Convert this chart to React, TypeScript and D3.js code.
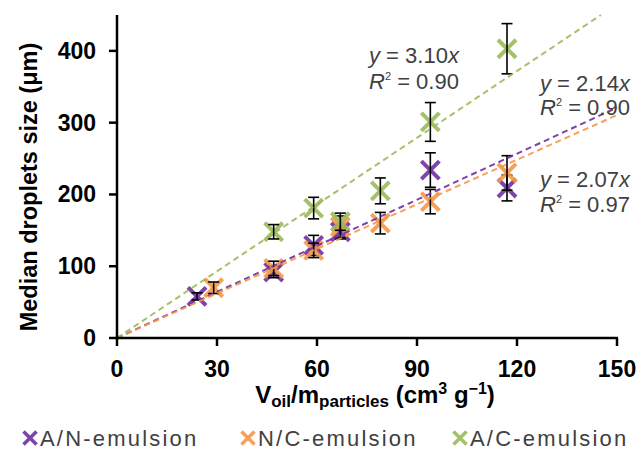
import React from "react";
import * as d3 from "d3";

const anX = [24, 47, 59, 67, 94, 117];
const anY = [58, 92, 129, 148, 234, 209];
const anErr = [5, 8, 14, 10, 24, 18];

const ncX = [29, 47, 59, 67, 79, 94, 117];
const ncY = [70, 97, 122, 155, 160, 190, 230];
const ncErr = [8, 10, 10, 15, 15, 17, 24];

const acX = [47, 59, 67, 79, 94, 117];
const acY = [148, 181, 162, 205, 301, 403];
const acErr = [10, 15, 12, 18, 27, 35];

const slopes = [2.14, 2.07, 3.1];
const seriesNames = ["A/N-emulsion", "N/C-emulsion", "A/C-emulsion"];
const colors = ["#7030A0", "#F79646", "#9BBB59"];
const xTicks = [0, 30, 60, 90, 120, 150];
const yTicks = [0, 100, 200, 300, 400];

const FONT = "'Liberation Sans', Arial, sans-serif";

function Cross({ cx, cy, r, color, sw }: { cx: number; cy: number; r: number; color: string; sw: number }) {
  return (
    <g stroke={color} strokeWidth={sw} strokeLinecap="butt" opacity={0.9}>
      <line x1={cx - r} y1={cy - r} x2={cx + r} y2={cy + r} />
      <line x1={cx - r} y1={cy + r} x2={cx + r} y2={cy - r} />
    </g>
  );
}

export default function App() {
  const W = 640, H = 450;
  const x = d3.scaleLinear().domain([0, 150]).range([117, 617]);
  const y = d3.scaleLinear().domain([0, 450]).range([338, 15]);
  const series = [
    { xs: anX, ys: anY, es: anErr },
    { xs: ncX, ys: ncY, es: ncErr },
    { xs: acX, ys: acY, es: acErr },
  ];
  const line = d3.line<[number, number]>().x((d) => x(d[0])).y((d) => y(d[1]));

  return (
    <svg width={W} height={H} style={{ position: "absolute", left: 0, top: 0 }} fontFamily={FONT}>
      <rect width={W} height={H} fill="#fff" />
      {/* series */}
      {series.map((s, si) => (
        <g key={si}>
          {s.xs.map((xv, i) => (
            <Cross key={"m" + i} cx={x(xv)} cy={y(s.ys[i])} r={9} color={colors[si]} sw={4} />
          ))}
          {s.xs.map((xv, i) => {
            const cx = x(xv);
            const y1 = y(s.ys[i] + s.es[i]);
            const y2 = y(s.ys[i] - s.es[i]);
            return (
              <g key={"e" + i} stroke="#000" strokeWidth={1.6}>
                <line x1={cx} x2={cx} y1={y1} y2={y2} />
                <line x1={cx - 5.5} x2={cx + 5.5} y1={y1} y2={y1} />
                <line x1={cx - 5.5} x2={cx + 5.5} y1={y2} y2={y2} />
              </g>
            );
          })}
        </g>
      ))}
      {/* trendlines */}
      {slopes.map((k, si) => {
        const xe = Math.min(150, 450 / k);
        return (
          <path
            key={"t" + si}
            d={line([[0, 0], [xe, k * xe]]) || ""}
            fill="none"
            stroke={colors[si]}
            strokeWidth={2}
            strokeDasharray="6,4"
            opacity={0.9}
          />
        );
      })}
      {/* axes */}
      <g stroke="#000" strokeWidth={2.5}>
        <line x1={x(0)} x2={x(0)} y1={y(450)} y2={y(0) + 1} />
        <line x1={x(0) - 1} x2={x(150) + 1} y1={y(0)} y2={y(0)} />
        {yTicks.map((t) => (
          <line key={"yt" + t} x1={x(0) - 8} x2={x(0)} y1={y(t)} y2={y(t)} />
        ))}
        {xTicks.map((t) => (
          <line key={"xt" + t} x1={x(t)} x2={x(t)} y1={y(0)} y2={y(0) + 8} />
        ))}
      </g>
      <g fontSize={23} fontWeight="bold" fill="#000">
        {yTicks.map((t) => (
          <text key={"yl" + t} x={96} y={y(t)} dy="0.35em" textAnchor="end">{t}</text>
        ))}
        {xTicks.map((t) => (
          <text key={"xl" + t} x={x(t)} y={377} textAnchor="middle">{t}</text>
        ))}
      </g>
      {/* axis titles */}
      <text
        transform="translate(37,187) rotate(-90)"
        textAnchor="middle"
        fontSize={23.5}
        fontWeight="bold"
        fill="#000"
      >
        Median droplets size (μm)
      </text>
      <text x={375} y={403} textAnchor="middle" fontSize={24} fontWeight="bold" fill="#000">
        V<tspan fontSize={17} dy={4}>oil</tspan>
        <tspan dy={-4}>/m</tspan>
        <tspan fontSize={17} dy={4}>particles</tspan>
        <tspan dy={-4}> (cm</tspan>
        <tspan fontSize={16} dy={-9}>3</tspan>
        <tspan dy={9}> g</tspan>
        <tspan fontSize={16} dy={-9}>−1</tspan>
        <tspan dy={9}>)</tspan>
      </text>
      {/* equations */}
      <g fontSize={22} fill="#404040">
        <text x={369} y={63}><tspan fontStyle="italic">y</tspan> = 3.10<tspan fontStyle="italic">x</tspan></text>
        <text x={369} y={89}><tspan fontStyle="italic">R</tspan><tspan fontSize={11} dy={-9}>2</tspan><tspan dy={9}> = 0.90</tspan></text>
        <text x={540} y={91}><tspan fontStyle="italic">y</tspan> = 2.14<tspan fontStyle="italic">x</tspan></text>
        <text x={540} y={115}><tspan fontStyle="italic">R</tspan><tspan fontSize={11} dy={-9}>2</tspan><tspan dy={9}> = 0.90</tspan></text>
        <text x={540} y={187}><tspan fontStyle="italic">y</tspan> = 2.07<tspan fontStyle="italic">x</tspan></text>
        <text x={540} y={212}><tspan fontStyle="italic">R</tspan><tspan fontSize={11} dy={-9}>2</tspan><tspan dy={9}> = 0.97</tspan></text>
      </g>
      {/* legend */}
      {seriesNames.map((n, i) => {
        const lx = [30, 248, 460][i];
        return (
          <g key={"lg" + i}>
            <Cross cx={lx} cy={438} r={6.5} color={colors[i]} sw={3.5} />
            <text x={lx + 10} y={446} fontSize={22} letterSpacing={2.2} fill="#404040">{n}</text>
          </g>
        );
      })}
    </svg>
  );
}
